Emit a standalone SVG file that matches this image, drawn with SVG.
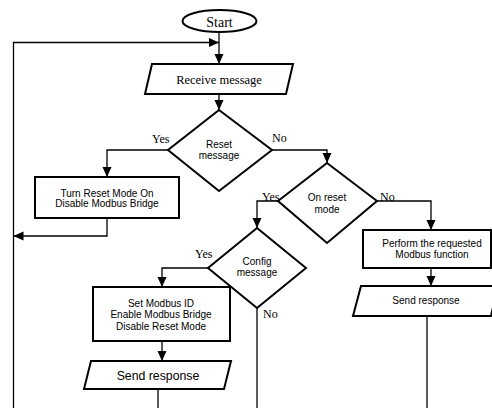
<svg xmlns="http://www.w3.org/2000/svg" width="492" height="408" viewBox="0 0 492 408">
<defs>
<marker id="ah" markerUnits="userSpaceOnUse" markerWidth="10" markerHeight="10" viewBox="0 0 10 10" refX="10" refY="5" orient="auto">
<path d="M0,0.5 L10,5 L0,9.5 Z" fill="#000"/>
</marker>
<style>
.s{fill:#fff;stroke:#000;stroke-width:2}
.c{fill:none;stroke:#000;stroke-width:1.3}
.a{marker-end:url(#ah)}
.sf{font-family:"Liberation Sans",Arial,sans-serif;font-size:10px;text-anchor:middle;fill:#000}
.big{font-size:12.3px}
.tf{font-family:"Liberation Serif","Times New Roman",serif;fill:#000}
.lb{font-family:"Liberation Serif","Times New Roman",serif;font-size:12px;fill:#000}
</style>
</defs>
<rect width="492" height="408" fill="#fff"/>
<g id="connectors">
<path class="c a" d="M219,32 V64"/>
<path class="c a" d="M13.5,408 V42.5 H219"/>
<path class="c a" d="M219,94 V110"/>
<path class="c a" d="M168,150 H107 V177"/>
<path class="c a" d="M107,218 V236 H13.5"/>
<path class="c a" d="M272,150 H327 V163"/>
<path class="c a" d="M278,201 H257 V228"/>
<path class="c a" d="M377,201 H431 V230"/>
<path class="c a" d="M208,268 H162 V287"/>
<path class="c a" d="M162,341 V361"/>
<path class="c" d="M158,389 V408"/>
<path class="c" d="M257,308 V408"/>
<path class="c a" d="M431,268 V286"/>
<path class="c" d="M427,316 V408"/>
</g>
<g id="start">
<ellipse class="s" cx="219.5" cy="21" rx="37" ry="11"/>
<text class="tf" x="219.5" y="26.5" font-size="14" text-anchor="middle">Start</text>
</g>
<g id="receive">
<polygon class="s" points="152,64 293,64 286,94 145,94"/>
<text class="tf" x="219" y="84" font-size="12.5" text-anchor="middle">Receive message</text>
</g>
<g id="reset-decision">
<polygon class="s" points="219,110 272,150 219,191 168,150"/>
<text class="sf" x="219" y="148">Reset</text>
<text class="sf" x="219" y="159">message</text>
<text class="lb" x="152" y="143">Yes</text>
<text class="lb" x="272" y="142">No</text>
</g>
<g id="turn-reset">
<rect class="s" x="35" y="177" width="144" height="41"/>
<text class="sf" x="107" y="197">Turn Reset Mode On</text>
<text class="sf" x="107" y="207">Disable Modbus Bridge</text>
</g>
<g id="on-reset-decision">
<polygon class="s" points="327,163 377,201 327,243 278,201"/>
<text class="sf" x="327" y="201">On reset</text>
<text class="sf" x="327" y="213">mode</text>
<text class="lb" x="262" y="201">Yes</text>
<text class="lb" x="380" y="201">No</text>
</g>
<g id="config-decision">
<polygon class="s" points="257,228 306,268 257,308 208,268"/>
<text class="sf" x="257" y="265">Config</text>
<text class="sf" x="257" y="276">message</text>
<text class="lb" x="195" y="258">Yes</text>
<text class="lb" x="263" y="318">No</text>
</g>
<g id="set-modbus">
<rect class="s" x="93" y="287" width="137" height="54"/>
<text class="sf" x="161" y="307">Set Modbus ID</text>
<text class="sf" x="161" y="318">Enable Modbus Bridge</text>
<text class="sf" x="161" y="330">Disable Reset Mode</text>
</g>
<g id="send-left">
<polygon class="s" points="91,361 231,361 224,389 84,389"/>
<text class="sf big" x="158" y="380">Send response</text>
</g>
<g id="perform">
<rect class="s" x="363" y="230" width="128" height="38"/>
<text class="sf" x="432" y="247">Perform the requested</text>
<text class="sf" x="432" y="258">Modbus function</text>
</g>
<g id="send-right">
<polygon class="s" points="361,286 498,286 491,316 353,316"/>
<text class="sf" x="426" y="304">Send response</text>
</g>
</svg>
